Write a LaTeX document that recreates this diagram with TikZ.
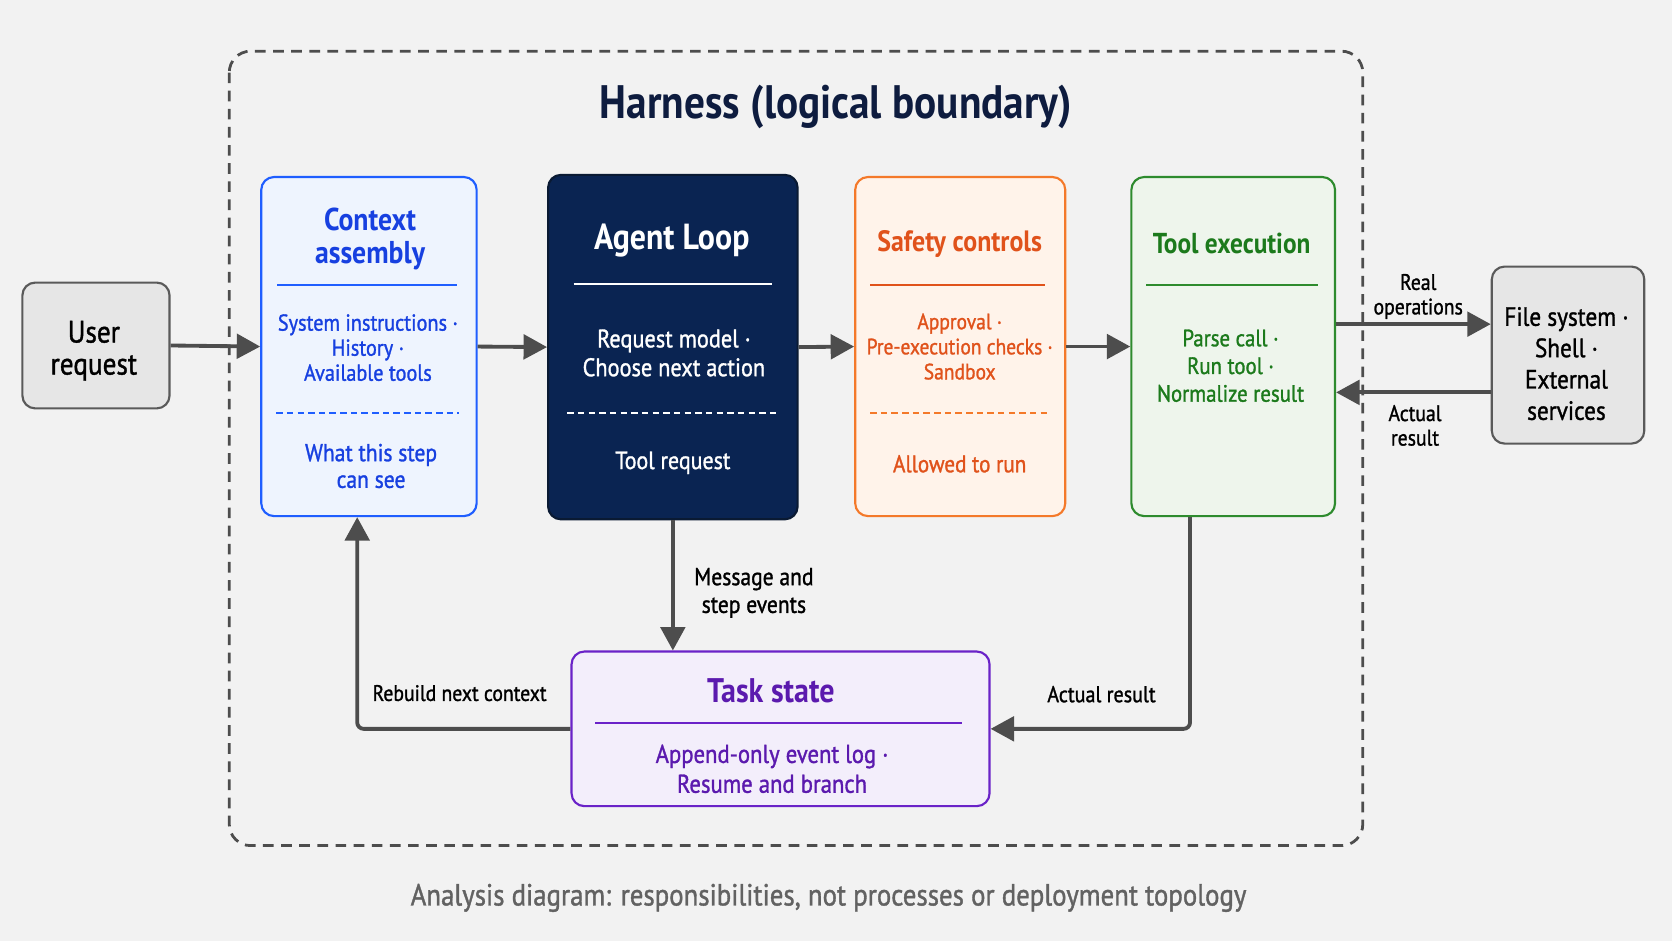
\documentclass[tikz,border=0pt]{standalone}
\usepackage{fontspec}
\setmainfont{PT Sans}[FakeStretch=0.88,UprightFeatures={FakeBold=1.2}]
\usetikzlibrary{arrows.meta,positioning}

\definecolor{bgcol}{HTML}{F2F2F2}
\definecolor{arrowgray}{HTML}{4D4D4D}
\definecolor{navytext}{HTML}{0E1C3F}
\definecolor{ctxline}{HTML}{1F5EFF}
\definecolor{ctxfill}{HTML}{EEF4FE}
\definecolor{ctxtext}{HTML}{1740E0}
\definecolor{loopfill}{HTML}{0A2452}
\definecolor{loopline}{HTML}{0A1A33}
\definecolor{safeline}{HTML}{F4792A}
\definecolor{safefill}{HTML}{FFF3EA}
\definecolor{safetext}{HTML}{E0521B}
\definecolor{execline}{HTML}{2E8B2E}
\definecolor{execfill}{HTML}{EEF5EC}
\definecolor{exectext}{HTML}{1C7A1C}
\definecolor{taskline}{HTML}{6A22C8}
\definecolor{taskfill}{HTML}{F3EEFB}
\definecolor{tasktext}{HTML}{5B1AAE}
\definecolor{outfill}{HTML}{E6E6E6}
\definecolor{outline}{HTML}{5A5A5A}
\definecolor{notegray}{HTML}{626262}

\begin{document}
\begin{tikzpicture}[x=0.5pt,y=-0.5pt,
  box/.style={draw,rounded corners=6pt,line width=1pt,inner sep=0pt,anchor=north west},
  flow/.style={draw=arrowgray,line width=1.8pt,-{Triangle[length=11pt,width=11.5pt]}},
  head/.style={font=\fontsize{13.5}{15.5}\selectfont\bfseries,align=center},
  body/.style={font=\fontsize{10.8}{11.75}\selectfont,align=center},
  foot/.style={font=\fontsize{11.5}{12.5}\selectfont,align=center},
  tag/.style={font=\fontsize{10.7}{12}\selectfont,align=center,text=black},
  rule/.style={line width=1pt},
  cut/.style={line width=0.8pt,dash pattern=on 3pt off 2pt}]

  \fill[bgcol] (0,0) rectangle (1568,882);
  \useasboundingbox (0,0) rectangle (1568,882);

  % harness boundary
  \draw[arrowgray,line width=1.3pt,dash pattern=on 5pt off 3.5pt,rounded corners=10pt]
    (215,48) rectangle (1278,793);
  \node[font=\fontsize{22}{26}\selectfont\bfseries,text=navytext] (title) at (784,100)
    {Harness (logical boundary)};

  % outside boxes
  \node[box,draw=outline,fill=outfill,minimum width=69pt,minimum height=59pt] (user) at (20,264) {};
  \node[font=\fontsize{14.5}{15}\selectfont,align=center] (usertext) at (88,329) {User\\request};
  \node[box,draw=outline,fill=outfill,minimum width=71.5pt,minimum height=83pt] (files) at (1398,249) {};
  \node[font=\fontsize{12.4}{14.7}\selectfont,align=center] (filestext) at (1469,341)
    {File system ·\\Shell ·\\External\\services};

  % context assembly
  \node[box,draw=ctxline,fill=ctxfill,minimum width=101pt,minimum height=159pt] (ctx) at (244,165) {};
  \node[head,font=\fontsize{14.8}{15.5}\selectfont\bfseries,text=ctxtext] (ctxhead) at (347,224) {Context\\assembly};
  \draw[rule,ctxline] (260,267) -- (429,267);
  \node[body,text=ctxtext] (ctxbody) at (345,326) {System instructions ·\\History ·\\Available tools};
  \draw[cut,ctxline] (259,387) -- (430,387);
  \node[foot,text=ctxtext] (ctxfoot) at (348,437) {What this step\\can see};

  % agent loop
  \node[box,draw=loopline,fill=loopfill,minimum width=117pt,minimum height=161.5pt] (agent) at (513,163) {};
  \node[head,font=\fontsize{17}{18}\selectfont\bfseries,text=white] (agenthead) at (630,226) {Agent Loop};
  \draw[rule,white] (538,266) -- (724,266);
  \node[foot,font=\fontsize{11.9}{13.5}\selectfont,text=white] (agentbody) at (632,331)
    {Request model ·\\Choose next action};
  \draw[cut,white] (532,387) -- (730,387);
  \node[foot,font=\fontsize{11.7}{13}\selectfont,text=white] (agentfoot) at (631,434) {Tool request};

  % safety controls
  \node[box,draw=safeline,fill=safefill,minimum width=98.5pt,minimum height=159pt] (safe) at (801,165) {};
  \node[head,font=\fontsize{13.8}{15.5}\selectfont\bfseries,text=safetext] (safehead) at (900,229) {Safety controls};
  \draw[rule,safetext] (816,267) -- (980,267);
  \node[body,font=\fontsize{10.4}{11.75}\selectfont,text=safetext] (safebody) at (900,325)
    {Approval ·\\Pre-execution checks ·\\Sandbox};
  \draw[cut,safeline] (816,387) -- (982,387);
  \node[foot,font=\fontsize{11.3}{12.5}\selectfont,text=safetext] (safefoot) at (900,435) {Allowed to run};

  % tool execution
  \node[box,draw=execline,fill=execfill,minimum width=95.5pt,minimum height=159pt] (tool) at (1060,165) {};
  \node[head,text=exectext] (toolhead) at (1155,228) {Tool execution};
  \draw[rule,execline] (1075,267) -- (1236,267);
  \node[body,font=\fontsize{11.1}{13}\selectfont,text=exectext] (toolbody) at (1154,343)
    {Parse call ·\\Run tool ·\\Normalize result};

  % task state
  \node[box,draw=taskline,fill=taskfill,minimum width=196pt,minimum height=72.5pt] (task) at (535,610) {};
  \node[head,font=\fontsize{16}{16}\selectfont\bfseries,text=tasktext] (taskhead) at (723,648) {Task state};
  \draw[rule,taskline] (558,678) -- (902,678);
  \node[foot,font=\fontsize{12.1}{14}\selectfont,text=tasktext] (taskbody) at (724,721)
    {Append-only event log ·\\Resume and branch};

  % connectors
  \draw[flow] (user.east) -- (ctx.west);
  \draw[flow] (ctx.east) -- (agent.west);
  \draw[flow] (agent.east) -- (safe.west);
  \draw[flow] (safe.east) -- (tool.west);
  \draw[flow] (tool.east |- 0,304) -- (files.west |- 0,304)
    node[tag,font=\fontsize{10.5}{11.5}\selectfont] (lblreal) at (1330,278) {Real\\operations};
  \draw[flow] (files.west |- 0,368) -- (tool.east |- 0,368)
    node[tag,font=\fontsize{10.5}{11.5}\selectfont] (lblback) at (1327,399) {Actual\\result};
  \draw[flow] (agent.south) -- (agent.south |- task.north)
    node[tag,font=\fontsize{11.5}{13}\selectfont] (lblevents) at (707,556) {Message and\\step events};
  \draw[flow,rounded corners=3pt] ([xshift=-20.25pt]tool.south) |- (task.east)
    node[tag] (lblresult) at (1033,651) {Actual result};
  \draw[flow,rounded corners=3pt] (task.west) -| ([xshift=-5.5pt]ctx.south)
    node[tag,font=\fontsize{10.5}{12}\selectfont] (lblrebuild) at (431,650) {Rebuild next context};

  % caption
  \node[font=\fontsize{14.3}{16}\selectfont,text=notegray] (note) at (777,842)
    {Analysis diagram: responsibilities, not processes or deployment topology};
\end{tikzpicture}
\end{document}
